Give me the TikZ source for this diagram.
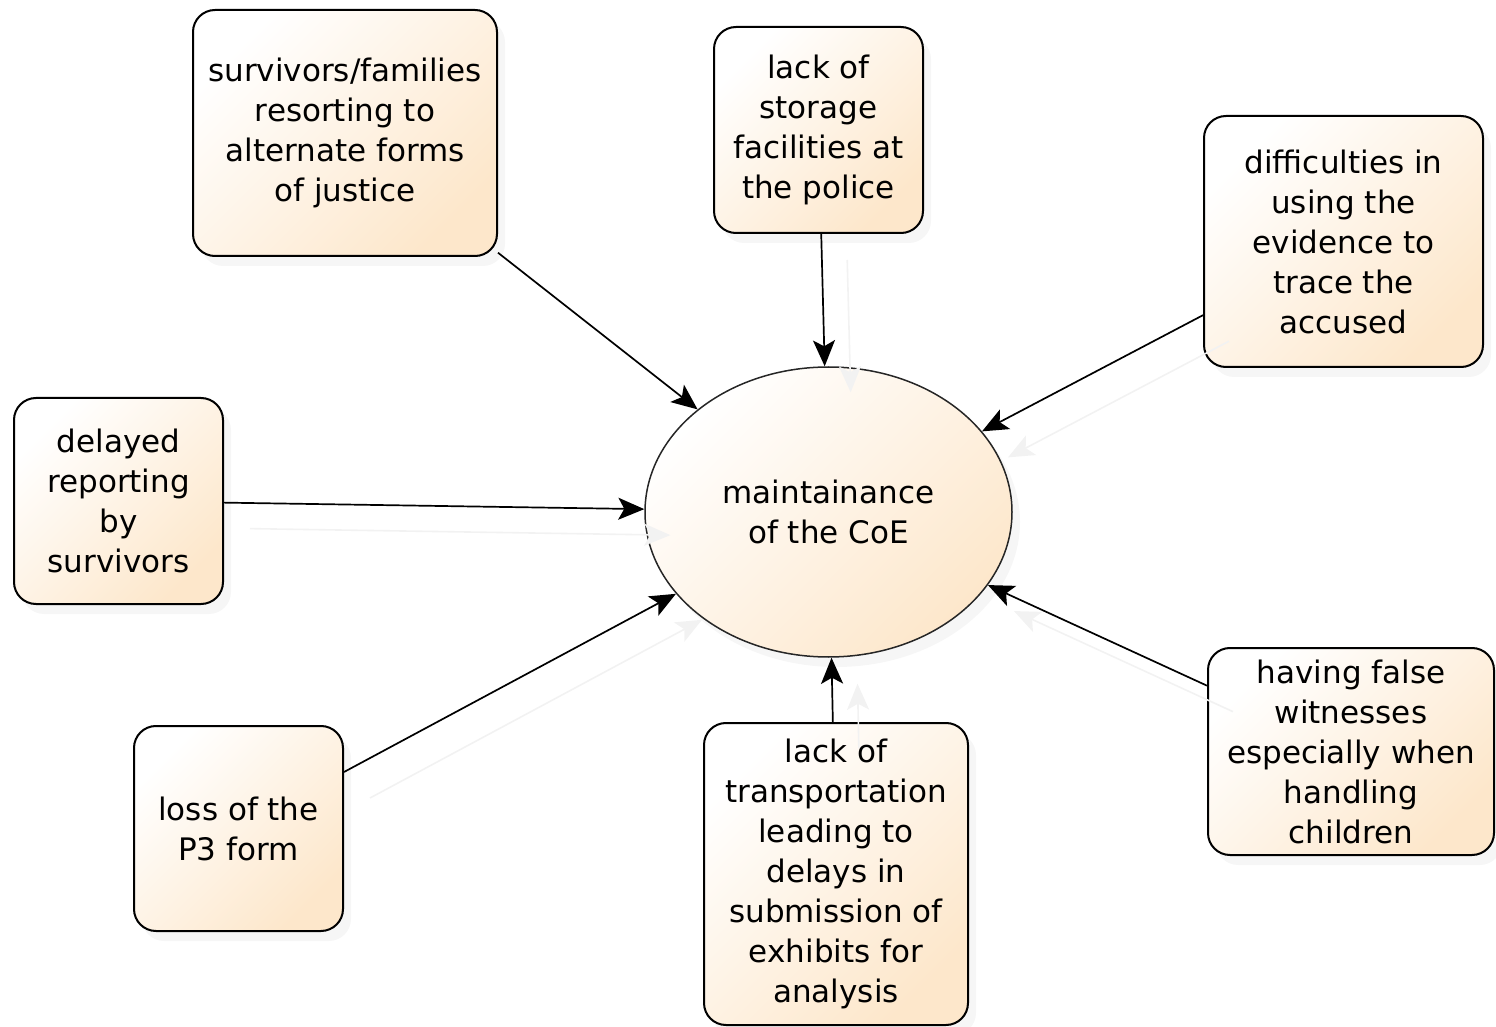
\documentclass[tikz,border=0pt]{standalone}
\usepackage{fontspec}
\setmainfont{DejaVu Sans}
\usetikzlibrary{arrows.meta,shapes.geometric,shadows}
\definecolor{boxorange}{RGB}{253,231,203}
\begin{document}
\begin{tikzpicture}[x=0.5pt,y=-0.5pt,
  cause/.style={draw=black, line width=1pt, rounded corners=11pt,
    top color=white, bottom color=boxorange, shading=axis, shading angle=45,
    align=center, font=\fontsize{15.5}{20}\selectfont, inner sep=0pt,
    drop shadow={shadow xshift=4pt, shadow yshift=-5pt, opacity=0.07}},
  effect/.style={ellipse, draw=black!85, line width=0.75pt,
    top color=white, bottom color=boxorange, shading=axis, shading angle=45,
    align=center, font=\fontsize{15.5}{20}\selectfont, inner sep=0pt,
    minimum width=183.5pt, minimum height=145pt,
    drop shadow={shadow xshift=4pt, shadow yshift=-5pt, opacity=0.07}},
  conn/.style={draw=black, line width=0.85pt, -{Stealth[length=13pt,width=11pt,inset=3pt]}},
  ghost/.style={draw=black!5, line width=0.8pt, -{Stealth[length=13pt,width=11pt,inset=3pt]},
    transform canvas={shift={(13pt,-13pt)}}}
]
\useasboundingbox (0,0) rectangle (1496,1027);

\node[effect] (coe) at (828.5,512) {maintainance\\of the CoE};

\node[cause, minimum width=152pt, minimum height=123pt] (b1) at (345,133)
  {survivors/families\\resorting to\\alternate forms\\of justice};
\node[cause, minimum width=104.5pt, minimum height=103pt] (b2) at (818.5,130)
  {lack of\\storage\\facilities at\\the police};
\node[cause, minimum width=139.5pt, minimum height=125.5pt] (b3) at (1343.5,241.5)
  {difficulties in\\using the\\evidence to\\trace the\\accused};
\node[cause, minimum width=104.5pt, minimum height=103pt] (b4) at (118.5,501)
  {delayed\\reporting\\by\\survivors};
\node[cause, minimum width=104.5pt, minimum height=102.5pt] (b5) at (238.5,828.5)
  {loss of the\\P3 form};
\node[cause, minimum width=132pt, minimum height=151pt] (b6) at (836,874)
  {lack of\\transportation\\leading to\\delays in\\submission of\\exhibits for\\analysis};
\node[cause, minimum width=143pt, minimum height=103.5pt] (b7) at (1351,751.5)
  {having false\\witnesses\\especially when\\handling\\children};

\foreach \b in {b2,b3,b4,b5,b6,b7}
  \draw[ghost] (\b) -- (coe);

\foreach \b in {b1,b2,b3,b4,b5,b6,b7}
  \draw[conn] (\b) -- (coe);
\end{tikzpicture}
\end{document}
